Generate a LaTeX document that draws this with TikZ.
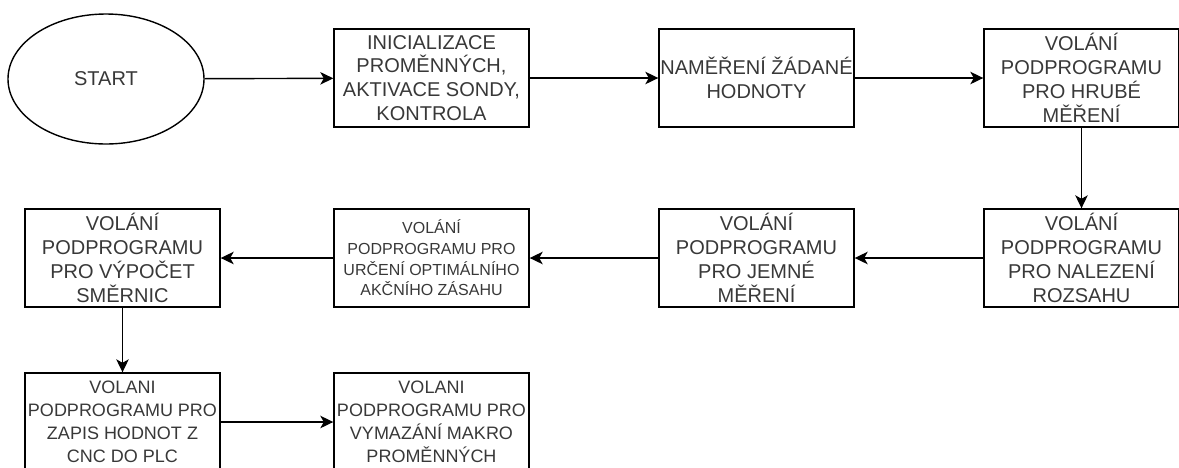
\documentclass[tikz,border=0pt]{standalone}
\usepackage{fontspec}
\setmainfont{Liberation Sans}
\usetikzlibrary{arrows.meta,shapes.geometric}

\tikzset{
  stepbox/.style={draw=black, line width=1.4pt, minimum width=195, minimum height=98,
    inner sep=0pt, align=center, text=black!78,
    font=\fontsize{20}{23.8}\selectfont},
  widebox/.style={stepbox, font=\fontsize{18}{23}\selectfont},
  smallbox/.style={stepbox, font=\fontsize{16}{20.6}\selectfont},
  startnode/.style={draw=black, line width=1.4pt, ellipse, minimum width=196,
    minimum height=130, inner sep=0pt, text=black!78, font=\fontsize{20}{24}\selectfont},
  flow/.style={draw=black, line width=1.4pt,
    -{Stealth[length=13, width=12.5, inset=3.5]}}
}

\begin{document}
\begin{tikzpicture}[x=1pt, y=-1pt]
  \useasboundingbox (0,0) rectangle (1179,467);

  % first row
  \node[startnode] (start) at (106,79) {START};
  \node[stepbox] (init) at (431.5,78) {INICIALIZACE\\PROMĚNNÝCH,\\AKTIVACE SONDY,\\KONTROLA};
  \node[stepbox] (meas) at (756.5,78) {NAMĚŘENÍ ŽÁDANÉ\\HODNOTY};
  \node[stepbox] (coarse) at (1081.5,78) {VOLÁNÍ\\PODPROGRAMU\\PRO HRUBÉ\\MĚŘENÍ};

  % second row, running right to left
  \node[stepbox] (range) at (1081.5,258) {VOLÁNÍ\\PODPROGRAMU\\PRO NALEZENÍ\\ROZSAHU};
  \node[stepbox] (fine) at (756.5,258) {VOLÁNÍ\\PODPROGRAMU\\PRO JEMNÉ\\MĚŘENÍ};
  \node[smallbox] (optim) at (431.5,258) {VOLÁNÍ\\PODPROGRAMU PRO\\URČENÍ OPTIMÁLNÍHO\\AKČNÍHO ZÁSAHU};
  \node[stepbox] (slope) at (122.5,258) {VOLÁNÍ\\PODPROGRAMU\\PRO VÝPOČET\\SMĚRNIC};

  % third row
  \node[widebox] (write) at (122.5,422) {VOLANI\\PODPROGRAMU PRO\\ZAPIS HODNOT Z\\CNC DO PLC};
  \node[widebox] (erase) at (431.5,422) {VOLANI\\PODPROGRAMU PRO\\VYMAZÁNÍ MAKRO\\PROMĚNNÝCH};

  % connectors
  \draw[flow] (start) -- (init);
  \draw[flow] (init) -- (meas);
  \draw[flow] (meas) -- (coarse);
  \draw[flow] (coarse) -- (range);
  \draw[flow] (range) -- (fine);
  \draw[flow] (fine) -- (optim);
  \draw[flow] (optim) -- (slope);
  \draw[flow] (slope) -- (write);
  \draw[flow] (write) -- (erase);
\end{tikzpicture}
\end{document}
